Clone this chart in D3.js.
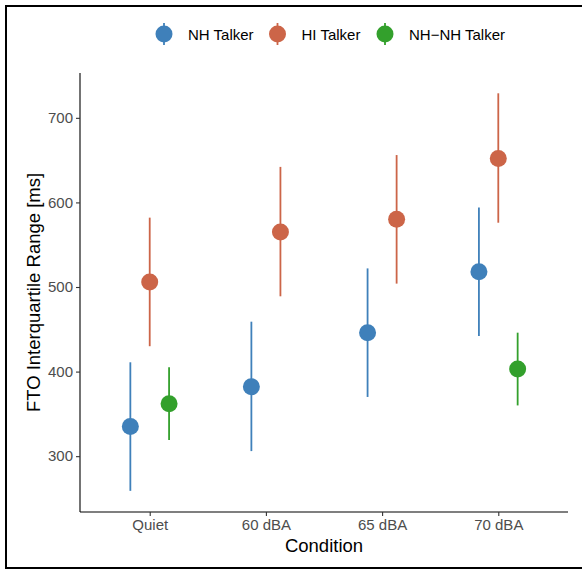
<!DOCTYPE html>
<html>
<head>
<meta charset="utf-8">
<script src="https://cdn.jsdelivr.net/npm/d3@7"></script>
<style>
  html, body { margin: 0; padding: 0; background: #fff; }
  svg { display: block; font-family: "Liberation Sans", Arial, Helvetica, sans-serif; }
</style>
</head>
<body>
<svg id="chart" width="582" height="570"></svg>
<script>
// Conditions on the x axis
const conditions = ["Quiet", "60 dBA", "65 dBA", "70 dBA"];

// Series: mean FTO interquartile range with lower / upper interval (ms); null = not measured
const seriesNames = ["NH Talker", "HI Talker", "NH\u2212NH Talker"];
const nhMean  = [335, 382, 446, 518];
const nhLow   = [259, 306, 370, 442];
const nhHigh  = [411, 459, 522, 594];
const hiMean  = [506, 565, 580, 652];
const hiLow   = [430, 489, 504, 576];
const hiHigh  = [582, 642, 656, 729];
const nnMean  = [362, null, null, 403];
const nnLow   = [319, null, null, 360];
const nnHigh  = [405, null, null, 446];

const yTicks = [300, 400, 500, 600, 700];
const colors = ["#3F80BA", "#CC6548", "#33A02C"];

const svg = d3.select("#chart");
const W = 582, H = 570;

// Frame around the figure
svg.append("rect")
  .attr("x", 6).attr("y", 6).attr("width", W + 10).attr("height", 562)
  .attr("fill", "none").attr("stroke", "#000").attr("stroke-width", 2);

const plot = { left: 80, right: 568, top: 73, bottom: 512 };

// Discrete x scale with 0.6-unit padding on each side
const x = d3.scaleLinear()
  .domain([0.4, conditions.length + 0.6])
  .range([plot.left, plot.right]);

const y = d3.scaleLinear()
  .domain([234, 753])
  .range([plot.bottom, plot.top]);

// Assemble rows from the arrays
const allSeries = [
  { mean: nhMean, low: nhLow, high: nhHigh },
  { mean: hiMean, low: hiLow, high: hiHigh },
  { mean: nnMean, low: nnLow, high: nnHigh }
];
const rows = [];
conditions.forEach((c, ci) => {
  const present = allSeries.map((s, si) => si).filter(si => allSeries[si].mean[ci] != null);
  const n = present.length;
  const dodge = 0.5;
  present.forEach((si, k) => {
    const s = allSeries[si];
    rows.push({
      cond: c, series: si,
      xv: ci + 1 + (k - (n - 1) / 2) * dodge / n,
      mean: s.mean[ci], low: s.low[ci], high: s.high[ci]
    });
  });
});

// Axes
const xAxis = d3.axisBottom(x)
  .tickValues(conditions.map((c, i) => i + 1))
  .tickFormat((d) => conditions[d - 1])
  .tickSize(4).tickPadding(3).tickSizeOuter(0);
const yAxis = d3.axisLeft(y)
  .tickValues(yTicks).tickFormat(d3.format("d"))
  .tickSize(4).tickPadding(3).tickSizeOuter(0);

const gx = svg.append("g").attr("transform", `translate(0,${plot.bottom})`).call(xAxis);
const gy = svg.append("g").attr("transform", `translate(${plot.left},0)`).call(yAxis);
[gx, gy].forEach(g => {
  g.select(".domain").attr("stroke", "#000").attr("stroke-width", 1.1);
  g.selectAll(".tick line").attr("stroke", "#333").attr("stroke-width", 1.1);
  g.selectAll(".tick text").attr("fill", "#4D4D4D").style("font-size", "15px")
    .style("font-family", "'Liberation Sans', Arial, sans-serif");
});
gx.select(".domain").attr("d", `M${plot.left},0H${plot.right}`);
gy.select(".domain").attr("d", `M0,${plot.bottom}V${plot.top}`);

// Axis titles
svg.append("text")
  .attr("x", (plot.left + plot.right) / 2).attr("y", 551.5)
  .attr("text-anchor", "middle").style("font-size", "18.5px").attr("fill", "#000")
  .text("Condition");
svg.append("text")
  .attr("transform", `translate(40,${(plot.top + plot.bottom) / 2}) rotate(-90)`)
  .attr("text-anchor", "middle").style("font-size", "18.5px").attr("fill", "#000")
  .text("FTO Interquartile Range [ms]");

// Point ranges
const marks = svg.append("g");
marks.selectAll("line.range").data(rows).join("line")
  .attr("class", "range")
  .attr("x1", d => x(d.xv)).attr("x2", d => x(d.xv))
  .attr("y1", d => y(d.low)).attr("y2", d => y(d.high))
  .attr("stroke", d => colors[d.series]).attr("stroke-width", 1.8);
marks.selectAll("circle").data(rows).join("circle")
  .attr("cx", d => x(d.xv)).attr("cy", d => y(d.mean)).attr("r", 8.5)
  .attr("fill", d => colors[d.series]);

// Legend
const legendKeys = [164, 277.5, 385];
const legend = svg.append("g");
seriesNames.forEach((name, i) => {
  const g = legend.append("g").attr("transform", `translate(${legendKeys[i]},34)`);
  g.append("line").attr("y1", -11).attr("y2", 11)
    .attr("stroke", colors[i]).attr("stroke-width", 1.8);
  g.append("circle").attr("r", 8.5).attr("fill", colors[i]);
  g.append("text").attr("x", 24).attr("y", 5.5)
    .style("font-size", "15px").attr("fill", "#000").text(name);
});
</script>
</body>
</html>
